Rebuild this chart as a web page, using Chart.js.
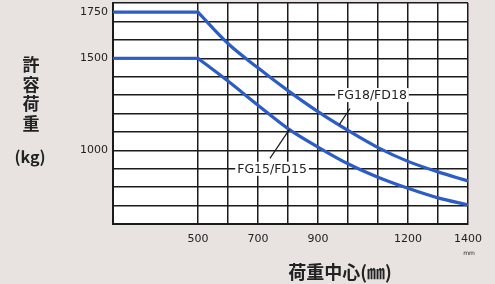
<!DOCTYPE html>
<html lang="ja">
<head>
<meta charset="UTF-8">
<title>許容荷重</title>
<script src="https://cdn.jsdelivr.net/npm/chart.js"></script>
<style>
  html, body { margin: 0; padding: 0; background: #e8e3e1; }
  #wrap { position: relative; width: 495px; height: 284px; }
</style>
</head>
<body>
<div id="wrap"><canvas id="chart"></canvas></div>
<script>
// load center (mm) and allowable load (kg)
const loadCenter = [500, 600, 700, 800, 900, 1000, 1100, 1200, 1300, 1400];
const capFG18 = [1750, 1580, 1448, 1324, 1210, 1108, 1015, 940, 883, 834];
const capFG15 = [1500, 1376, 1245, 1118, 1018, 927, 854, 794, 742, 704];
const seriesNames = ['FG18/FD18', 'FG15/FD15'];

const xStart = 217;   // axis is cut short on the left
const xTicks = [500, 600, 700, 800, 900, 1000, 1100, 1200, 1300, 1400];
const xTickLabels = [500, 700, 900, 1200, 1400];
const yTicks = [600, 700, 800, 900, 1000, 1100, 1200, 1300, 1400, 1500, 1600, 1700, 1750, 1800];
const yTickLabels = [1750, 1500, 1000];

// label text spot, leader line start and end, in data units
const curveLabels = [
  { text: seriesNames[0], at: [1080, 1300], from: [1007, 1227], to: [971, 1140] },
  { text: seriesNames[1], at: [747, 900], from: [740, 956], to: [805, 1114] }
];

const BLUE = '#2c5cc5';
const INK = '#1b1b1b';

// flat part up to 500 mm, then the curve (kept apart so the corner stays sharp)
function flat(caps) {
  return [{ x: xStart, y: caps[0] }, { x: loadCenter[0], y: caps[0] }];
}
function curve(caps) {
  return loadCenter.map((x, i) => ({ x: x, y: caps[i] }));
}

const paperPlugin = {
  id: 'paper',
  beforeDraw(chart) {
    const { ctx, chartArea: a } = chart;
    ctx.save();
    ctx.fillStyle = '#e8e3e1';
    ctx.fillRect(0, 0, chart.width, chart.height);
    ctx.fillStyle = '#ffffff';
    ctx.fillRect(a.left, a.top, a.right - a.left, a.bottom - a.top);
    ctx.restore();
  }
};

const textPlugin = {
  id: 'texts',
  afterDatasetsDraw(chart) {
    const { ctx } = chart;
    const sx = chart.scales.x, sy = chart.scales.y;
    ctx.save();
    ctx.fillStyle = '#222';
    ctx.textAlign = 'center';
    ctx.textBaseline = 'middle';

    // curve labels with leader lines
    ctx.font = '12.5px "DejaVu Sans"';
    curveLabels.forEach(l => {
      const px = sx.getPixelForValue(l.at[0]), py = sy.getPixelForValue(l.at[1]);
      const w = ctx.measureText(l.text).width;
      ctx.fillStyle = '#ffffff';
      ctx.fillRect(px - w / 2 - 2, py - 7, w + 4, 14);
      ctx.fillStyle = '#222';
      ctx.fillText(l.text, px, py + 0.5);
      ctx.beginPath();
      ctx.moveTo(sx.getPixelForValue(l.from[0]), sy.getPixelForValue(l.from[1]));
      ctx.lineTo(sx.getPixelForValue(l.to[0]), sy.getPixelForValue(l.to[1]));
      ctx.strokeStyle = INK;
      ctx.lineWidth = 1.2;
      ctx.stroke();
    });

    // vertical y title
    ctx.font = 'bold 17px "Noto Sans CJK JP"';
    ['許', '容', '荷', '重'].forEach((c, i) => ctx.fillText(c, 31, 65 + i * 19.5));
    ctx.font = 'bold 16px "Noto Sans CJK JP"';
    ctx.fillText('(kg)', 30, 157);

    // x title
    ctx.font = 'bold 18px "Noto Sans CJK JP"';
    ctx.fillText('荷重中心(㎜)', 340, 272);
    ctx.font = '6px "DejaVu Sans"';
    ctx.fillText('mm', 469, 253);
    ctx.restore();
  }
};

new Chart(document.getElementById('chart'), {
  type: 'line',
  data: {
    datasets: [
      { label: seriesNames[0], data: flat(capFG18), tension: 0 },
      { label: seriesNames[0], data: curve(capFG18), cubicInterpolationMode: 'monotone' },
      { label: seriesNames[1], data: flat(capFG15), tension: 0 },
      { label: seriesNames[1], data: curve(capFG15), cubicInterpolationMode: 'monotone' }
    ]
  },
  options: {
    responsive: true,
    maintainAspectRatio: false,
    animation: false,
    layout: { padding: { top: 3, right: 27, left: 0, bottom: 0 } },
    elements: {
      line: { borderColor: BLUE, borderWidth: 3.2, borderCapStyle: 'round', borderJoinStyle: 'round' },
      point: { radius: 0 }
    },
    plugins: { legend: { display: false }, tooltip: { enabled: false } },
    scales: {
      x: {
        type: 'linear',
        min: xStart,
        max: 1400,
        afterBuildTicks: s => { s.ticks = xTicks.map(v => ({ value: v })); },
        afterFit: s => { s.height = 60; s.paddingLeft = 0; s.paddingRight = 0; },
        ticks: {
          autoSkip: false,
          maxRotation: 0,
          padding: 9,
          color: '#222',
          font: { family: 'DejaVu Sans', size: 11 },
          callback: v => xTickLabels.includes(v) ? String(v) : ''
        },
        grid: { color: INK, lineWidth: 1.5, drawTicks: false },
        border: { color: INK, width: 2 }
      },
      y: {
        min: 600,
        max: 1800,
        afterBuildTicks: s => { s.ticks = yTicks.map(v => ({ value: v })); },
        afterFit: s => { s.width = 113; s.paddingTop = 0; s.paddingBottom = 0; },
        ticks: {
          autoSkip: false,
          padding: 5,
          color: '#222',
          font: { family: 'DejaVu Sans', size: 11 },
          callback: v => yTickLabels.includes(v) ? String(v) : ''
        },
        grid: {
          color: c => (c.tick && c.tick.value === 1750) ? 'rgba(0,0,0,0)' : INK,
          lineWidth: 1.5,
          drawTicks: false
        },
        border: { color: INK, width: 2 }
      }
    }
  },
  plugins: [paperPlugin, textPlugin]
});
</script>
</body>
</html>
